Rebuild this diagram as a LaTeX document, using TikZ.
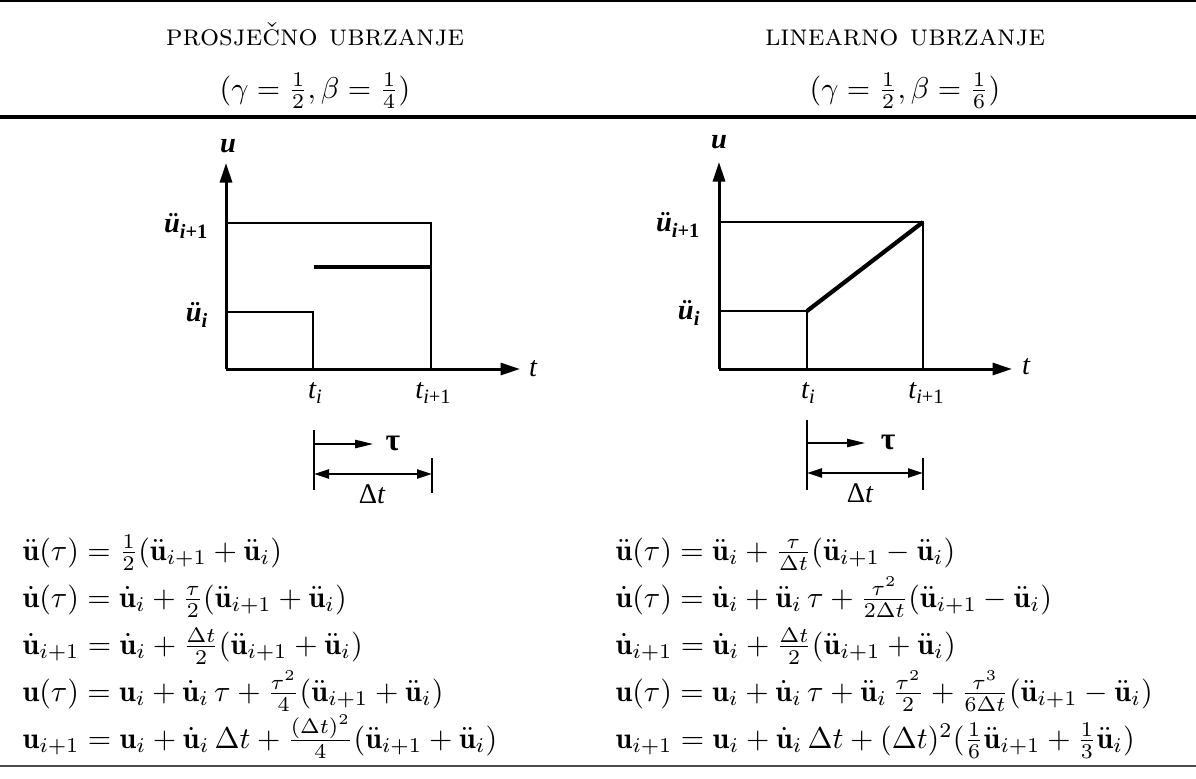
\documentclass[tikz,border=0pt]{standalone}
\usepackage{amsmath}
\usepackage{fontspec}
\newfontfamily\plotfont{Liberation Serif}
\usetikzlibrary{arrows.meta, positioning}
\newcommand{\bu}{\mathbf{u}}
\newcommand{\dbu}{\dot{\mathbf{u}}}
\newcommand{\ddbu}{\ddot{\mathbf{u}}}
\newcommand{\sublab}[2]{#1\raisebox{-0.45ex}{\fontsize{6.8}{7}\selectfont #2}}
\tikzset{
  axisline/.style={line width=1pt, -{Triangle[length=6.5pt, width=4pt]}},
  gridline/.style={line width=0.7pt},
  accline/.style={line width=1.4pt},
  tickline/.style={line width=0.5pt},
  tauarr/.style={line width=0.4pt, -{Triangle[length=6pt, width=2.8pt]}},
  dimarr/.style={line width=0.8pt, {Triangle[length=5pt, width=3pt]}-{Triangle[length=5pt, width=3pt]}},
  plab/.style={font=\plotfont\fontsize{9.5}{10}\selectfont\itshape, inner sep=0pt},
  eqn/.style={anchor=base west, inner sep=0pt},
  head/.style={anchor=base, inner sep=0pt},
}

\begin{document}
\begin{tikzpicture}[x=0.3333pt, y=-0.3333pt]
  \useasboundingbox (0,0) rectangle (1196,778);

  % table rules
  \draw[line width=0.6pt] (0,1) -- (1196,1);
  \draw[line width=1.2pt] (0,117) -- (1196,117);
  \draw[line width=0.5pt, black!70] (0,766) -- (1196,766);

  % column heads
  \node[head] (hdavg) at (315,45) {\textsc{prosječno ubrzanje}};
  \node[head] (hdavgpar) at (315,98) {$(\gamma=\frac{1}{2},\beta=\frac{1}{4})$};
  \node[head] (hdlin) at (905,45) {\textsc{linearno ubrzanje}};
  \node[head] (hdlinpar) at (905,98) {$(\gamma=\frac{1}{2},\beta=\frac{1}{6})$};

  % average acceleration plot
  \coordinate (oa) at (226,369);
  \coordinate (uta) at (226,163);
  \coordinate (tta) at (520,369);
  \draw[axisline] (oa) -- (uta);
  \draw[axisline] (oa) -- (tta);
  \draw[gridline] (226,223) -- (431,223) -- (431,369);
  \draw[gridline] (226,312) -- (313,312) -- (313,369);
  \draw[accline] (314,267) -- (431,267);
  \node[plab] (ua) at (228,146) {\bfseries u};
  \node[plab] (ta) at (533,369) {t};
  \node[plab, anchor=east] (uppa) at (208,226) {\bfseries\sublab{ü}{i\upshape+1}};
  \node[plab, anchor=east] (upa) at (208,315) {\bfseries\sublab{ü}{i}};
  \node[plab] (tia) at (315,393) {\sublab{t}{i}};
  \node[plab] (tiia) at (433,393) {\sublab{t}{i\upshape+1}};
  % tau and step
  \draw[tickline] (314,430) -- (314,490);
  \draw[tickline] (432,458) -- (432,493);
  \draw[tauarr] (314,444) -- (373,444);
  \draw[dimarr] (314,474) -- (432,474);
  \node[plab, font=\plotfont\fontsize{10.5}{11}\selectfont\bfseries] (taua) at (393,443) {τ};
  \node[plab] (dta) at (372,494) {{\upshape Δ}t};

  % linear acceleration plot
  \coordinate (ol) at (719,369);
  \coordinate (utl) at (719,162);
  \coordinate (ttl) at (1012,369);
  \draw[axisline] (ol) -- (utl);
  \draw[axisline] (ol) -- (ttl);
  \draw[gridline] (719,222) -- (923,222) -- (923,369);
  \draw[gridline] (719,311) -- (807,311) -- (807,369);
  \draw[accline] (807,311) -- (923,222);
  \node[plab] (ul) at (719,142) {\bfseries u};
  \node[plab] (tl) at (1026,367) {t};
  \node[plab, anchor=east] (uppl) at (700,225) {\bfseries\sublab{ü}{i\upshape+1}};
  \node[plab, anchor=east] (upl) at (700,313) {\bfseries\sublab{ü}{i}};
  \node[plab] (til) at (808,393) {\sublab{t}{i}};
  \node[plab] (tiil) at (926,393) {\sublab{t}{i\upshape+1}};
  % tau and step
  \draw[tickline] (807,420) -- (807,490);
  \draw[tickline] (923,458) -- (923,490);
  \draw[tauarr] (807,443) -- (865,443);
  \draw[dimarr] (807,473) -- (923,473);
  \node[plab, font=\plotfont\fontsize{10.5}{11}\selectfont\bfseries] (taul) at (888,442) {τ};
  \node[plab] (dtl) at (860,493) {{\upshape Δ}t};

  % equations, average acceleration
  \node[eqn] (eqa1) at (22,560) {$\ddbu(\tau)=\frac{1}{2}(\ddbu_{i+1}+\ddbu_i)$};
  \node[eqn] (eqa2) at (22,607) {$\dbu(\tau)=\dbu_i+\frac{\tau}{2}(\ddbu_{i+1}+\ddbu_i)$};
  \node[eqn] (eqa3) at (22,654) {$\dbu_{i+1}=\dbu_i+\frac{\Delta t}{2}(\ddbu_{i+1}+\ddbu_i)$};
  \node[eqn] (eqa4) at (22,701) {$\bu(\tau)=\bu_i+\dbu_i\,\tau+\frac{\tau^2}{4}(\ddbu_{i+1}+\ddbu_i)$};
  \node[eqn] (eqa5) at (22,748) {$\bu_{i+1}=\bu_i+\dbu_i\,\Delta t+\frac{(\Delta t)^2}{4}(\ddbu_{i+1}+\ddbu_i)$};

  % equations, linear acceleration
  \node[eqn] (eql1) at (615,560) {$\ddbu(\tau)=\ddbu_i+\frac{\tau}{\Delta t}(\ddbu_{i+1}-\ddbu_i)$};
  \node[eqn] (eql2) at (615,607) {$\dbu(\tau)=\dbu_i+\ddbu_i\,\tau+\frac{\tau^2}{2\Delta t}(\ddbu_{i+1}-\ddbu_i)$};
  \node[eqn] (eql3) at (615,654) {$\dbu_{i+1}=\dbu_i+\frac{\Delta t}{2}(\ddbu_{i+1}+\ddbu_i)$};
  \node[eqn] (eql4) at (615,701) {$\bu(\tau)=\bu_i+\dbu_i\,\tau+\ddbu_i\,\frac{\tau^2}{2}+\frac{\tau^3}{6\Delta t}(\ddbu_{i+1}-\ddbu_i)$};
  \node[eqn] (eql5) at (615,748) {$\bu_{i+1}=\bu_i+\dbu_i\,\Delta t+(\Delta t)^2(\frac{1}{6}\ddbu_{i+1}+\frac{1}{3}\ddbu_i)$};
\end{tikzpicture}
\end{document}
